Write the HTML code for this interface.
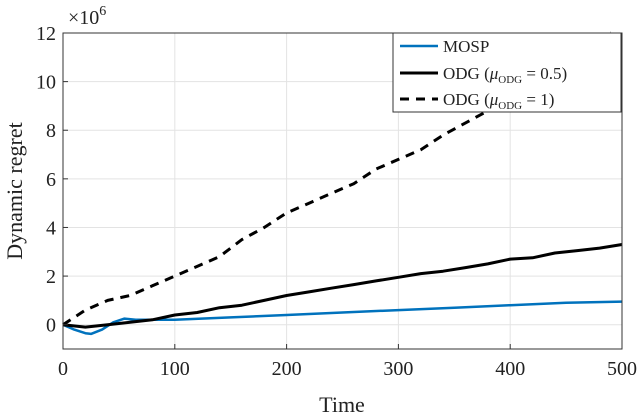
<!DOCTYPE html>
<html><head><meta charset="utf-8"><style>
body{margin:0;background:#fff;}
svg text{font-family:"Liberation Serif",serif;fill:#222;}
</style></head><body>
<svg width="640" height="415" viewBox="0 0 640 415">
<g id="grid"></g>
<g id="series"></g>
<g id="axes"></g>
<text x="68" y="24" font-size="20">×10<tspan dy="-9" font-size="14">6</tspan></text>
<text x="342" y="412" font-size="22" text-anchor="middle">Time</text>
<text transform="translate(22,191) rotate(-90)" font-size="22" text-anchor="middle">Dynamic regret</text>
<g>
<rect x="393" y="33" width="228" height="79" fill="#fff" stroke="#333" stroke-width="1"/>
<g><line x1="400" y1="46" x2="438" y2="46" stroke="#0072BD" stroke-width="2.5"/><text x="443" y="52" font-size="17">MOSP</text></g>
<g><line x1="400" y1="73" x2="438" y2="73" stroke="#000" stroke-width="3"/><text x="443" y="79" font-size="17">ODG (<tspan font-style="italic">μ</tspan><tspan font-size="11" dy="4">ODG</tspan><tspan dy="-4"> = 0.5)</tspan></text></g>
<g><line x1="400" y1="99" x2="438" y2="99" stroke="#000" stroke-width="3" stroke-dasharray="9,7"/><text x="443" y="105" font-size="17">ODG (<tspan font-style="italic">μ</tspan><tspan font-size="11" dy="4">ODG</tspan><tspan dy="-4"> = 1)</tspan></text></g>
</g>
</svg>
<script>
const xTicks=[0,100,200,300,400,500];
const yTicks=[0,2,4,6,8,10,12];
const mospT=[0,10,20,25,35,45,55,65,80,100,150,200,250,300,350,400,450,500];
const mospV=[0,-0.2,-0.35,-0.38,-0.2,0.1,0.25,0.2,0.2,0.2,0.3,0.4,0.5,0.6,0.7,0.8,0.9,0.95];
const odg05T=[0,20,40,60,80,100,120,140,160,180,200,220,240,260,280,300,320,340,360,380,400,420,440,460,480,500];
const odg05V=[0,-0.1,0,0.1,0.2,0.4,0.5,0.7,0.8,1.0,1.2,1.35,1.5,1.65,1.8,1.95,2.1,2.2,2.35,2.5,2.7,2.75,2.95,3.05,3.15,3.3];
const odg1T=[0,10,20,40,60,80,100,120,140,160,180,200,220,240,260,280,300,320,340,360,380,400,420,440,460,480,490];
const odg1V=[0,0.3,0.6,1.0,1.2,1.6,2.0,2.4,2.8,3.5,4.0,4.6,5.0,5.4,5.8,6.4,6.8,7.2,7.8,8.3,8.8,9.4,10.0,10.7,11.3,11.9,12.2];
const L=63,R=622,T=33,B=349,ymin=-1,ymax=12;
const X=t=>L+(t/500)*(R-L);
const Y=v=>B-(v-ymin)/(ymax-ymin)*(B-T);
const NS="http://www.w3.org/2000/svg";
function mk(tag,attrs,parent){const e=document.createElementNS(NS,tag);for(const k in attrs)e.setAttribute(k,attrs[k]);parent.appendChild(e);return e;}
const grid=document.getElementById('grid'),axes=document.getElementById('axes'),series=document.getElementById('series');
xTicks.forEach(t=>{
 const g=mk('line',{x1:X(t),x2:X(t),y1:T,y2:B,stroke:'#e3e3e3','stroke-width':1},grid);
 
 
 const tk=mk('line',{x1:X(t),x2:X(t),y1:B,y2:B-5,stroke:'#333'},axes);
 
 
 const lb=mk('text',{x:X(t),y:B+26,'font-size':20,'text-anchor':'middle'},axes);lb.textContent=t;
 
 
});
yTicks.forEach(v=>{
 const g=mk('line',{x1:L,x2:R,y1:Y(v),y2:Y(v),stroke:'#e3e3e3','stroke-width':1},grid);
 
 
 const tk=mk('line',{x1:L,x2:L+5,y1:Y(v),y2:Y(v),stroke:'#333'},axes);
 
 
 const lb=mk('text',{x:L-7,y:Y(v)+7,'font-size':20,'text-anchor':'end'},axes);lb.textContent=v;
 
 
});
const fr=mk('rect',{x:L,y:T,width:R-L,height:B-T,fill:'none',stroke:'#333','stroke-width':1},axes);


function line(ts,vs,color,w,dash,name){
 const d=ts.map((t,i)=>(i?'L':'M')+X(t).toFixed(1)+','+Y(Math.min(vs[i],ymax)).toFixed(1)).join('');
 const p=mk('path',{d:d,fill:'none',stroke:color,'stroke-width':w,'stroke-dasharray':dash||'none','stroke-linejoin':'round'},series);
 
 
}
line(odg1T,odg1V,'#000',3,'9,7','odg-1-line');
line(mospT,mospV,'#0072BD',2.5,null,'mosp-line');
line(odg05T,odg05V,'#000',3,null,'odg-05-line');
</script>
</body></html>
